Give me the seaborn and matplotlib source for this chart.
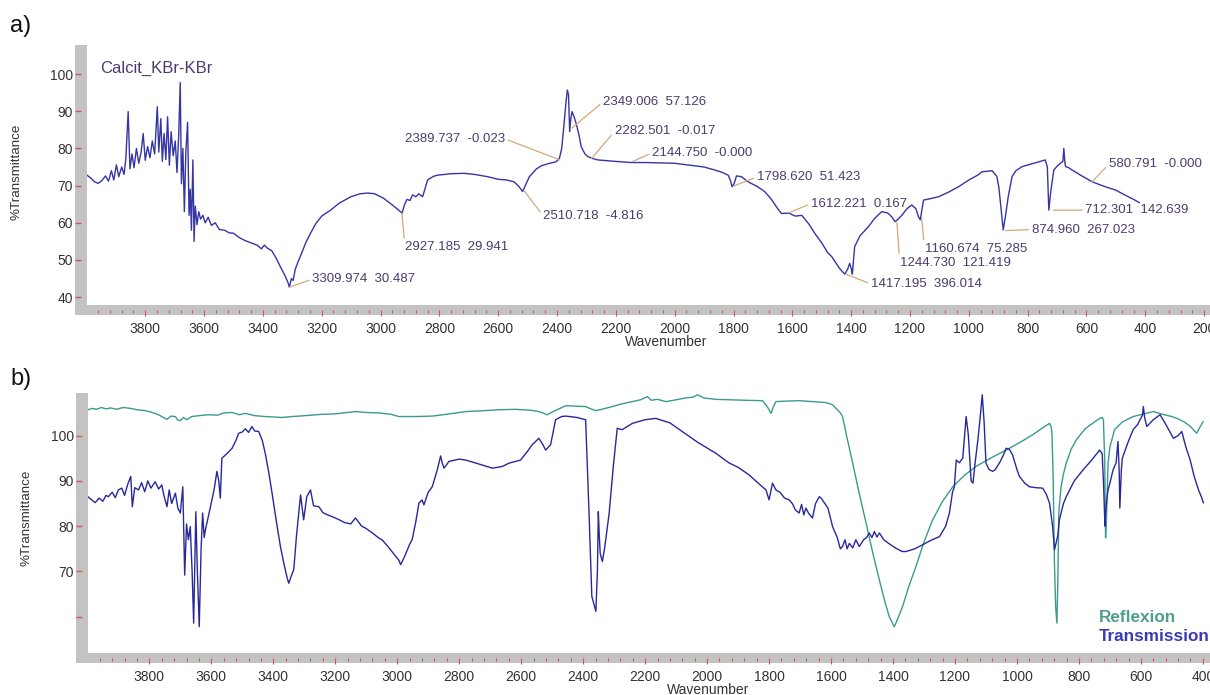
""" IR spectra of calcite: a) KBr pellet with peak picks, b) reflexion vs transmission
"""

import matplotlib
matplotlib.use('Agg')
import pandas as pd
import matplotlib.pyplot as plt
from matplotlib import font_manager
from matplotlib.ticker import FixedLocator
import seaborn as sns

# ---- panel a: Calcit_KBr-KBr (%T)
wn_a = [3998, 3985, 3972, 3960, 3948, 3935, 3925, 3915, 3907, 3898, 3890, 3880,
        3872, 3866, 3858, 3852, 3845, 3838, 3830, 3822, 3814, 3807, 3800, 3792,
        3784, 3776, 3768, 3759, 3754, 3747, 3742, 3736, 3730, 3724, 3718, 3712,
        3705, 3698, 3692, 3686, 3681, 3677, 3672, 3667, 3662, 3656, 3651, 3647,
        3643, 3638, 3634, 3630, 3624, 3618, 3612, 3604, 3596, 3586, 3575, 3562,
        3548, 3530, 3515, 3500, 3480, 3460, 3440, 3420, 3405, 3395, 3385, 3370,
        3355, 3340, 3325, 3315, 3310, 3303, 3297, 3290, 3282, 3270, 3255, 3238,
        3220, 3200, 3170, 3140, 3101, 3070, 3044, 3020, 2990, 2960, 2940, 2927,
        2918, 2910, 2900, 2891, 2880, 2870, 2857, 2840, 2820, 2806, 2760, 2716,
        2680, 2636, 2600, 2570, 2546, 2530, 2517, 2505, 2494, 2470, 2454, 2430,
        2403, 2392, 2384, 2377, 2370, 2365, 2361, 2357, 2353, 2349, 2342, 2335,
        2325, 2318, 2305, 2295, 2280, 2261, 2200, 2148, 2100, 2050, 2000, 1950,
        1900, 1864, 1840, 1818, 1810, 1805, 1798, 1790, 1773, 1750, 1720, 1694,
        1670, 1650, 1637, 1612, 1590, 1568, 1545, 1524, 1500, 1480, 1466, 1440,
        1422, 1412, 1405, 1399, 1396, 1388, 1370, 1341, 1320, 1296, 1275, 1262,
        1251, 1240, 1228, 1210, 1194, 1180, 1171, 1165, 1154, 1130, 1103, 1070,
        1035, 1000, 970, 955, 921, 905, 898, 890, 883, 874, 866, 853,
        840, 819, 780, 740, 733, 728, 722, 711, 700, 689, 680, 677,
        673, 671, 660, 649, 620, 580, 540, 501, 470, 440, 420]
tr_a = [72.8, 72.0, 71.0, 70.6, 71.3, 72.6, 71.2, 74.0, 71.5, 75.6, 72.4, 75.0,
        73.0, 77.2, 89.9, 74.5, 78.5, 74.8, 80.0, 76.0, 79.0, 84.0, 76.8, 80.5,
        77.5, 82.0, 78.5, 91.2, 79.0, 88.0, 76.5, 84.0, 77.0, 88.5, 75.5, 84.5,
        78.0, 82.0, 73.5, 84.0, 97.7, 70.5, 80.0, 63.0, 79.0, 87.0, 62.0, 69.0,
        58.0, 76.9, 55.0, 64.5, 59.5, 63.0, 61.0, 62.0, 60.0, 61.5, 59.3, 60.0,
        58.2, 58.0, 57.3, 57.2, 56.0, 55.2, 54.6, 54.0, 53.0, 54.0, 53.2, 52.5,
        50.5, 48.1, 45.8, 44.0, 42.7, 45.0, 44.5, 47.5, 49.2, 51.5, 54.5, 57.2,
        59.8, 61.8, 63.4, 65.3, 67.0, 67.8, 68.0, 67.8, 66.6, 64.8, 63.5, 62.6,
        65.0, 66.3, 66.0, 67.5, 67.0, 67.8, 67.0, 71.5, 72.5, 72.8, 73.2, 73.3,
        73.0, 72.4, 71.7, 71.5, 71.0, 69.8, 68.4, 70.5, 72.4, 74.5, 75.3, 75.9,
        76.4, 77.3, 80.0, 85.8, 92.0, 95.7, 94.5, 84.5, 88.0, 89.9, 88.5, 86.7,
        83.5, 80.5, 78.5, 77.8, 77.3, 76.9, 76.5, 76.2, 76.2, 76.1, 76.0, 75.5,
        75.0, 74.2, 73.6, 72.8, 71.3, 69.7, 70.5, 72.6, 72.4, 71.0, 69.8, 68.4,
        66.2, 63.8, 62.5, 62.6, 61.8, 62.0, 59.8, 57.2, 54.6, 52.0, 50.9, 47.8,
        46.2, 47.5, 49.1, 47.5, 46.2, 53.6, 56.5, 59.0, 61.2, 63.0, 62.6, 61.6,
        60.3, 61.0, 62.0, 63.8, 64.8, 63.8, 61.6, 60.8, 66.1, 66.5, 67.0, 68.2,
        69.7, 71.5, 72.8, 73.7, 74.0, 72.5, 69.7, 63.5, 58.1, 62.5, 67.0, 72.4,
        74.0, 75.1, 76.0, 76.9, 75.0, 63.4, 68.0, 74.2, 75.2, 76.0, 76.5, 80.0,
        76.0, 75.1, 74.8, 74.2, 72.8, 71.0, 69.8, 68.8, 67.5, 66.3, 65.4]

# peak picks of panel a: wavenumber, printed value, %T where the leader starts
pk_wn = [3309.974, 2927.185, 2510.718, 2389.737, 2349.006, 2282.501, 2144.750,
         1798.620, 1612.221, 1417.195, 1244.730, 1160.674, 874.960, 712.301, 580.791]
pk_val = ['30.487', '29.941', '-4.816', '-0.023', '57.126', '-0.017', '-0.000',
          '51.423', '0.167', '396.014', '121.419', '75.285', '267.023', '142.639', '-0.000']
pk_t = [42.7, 62.6, 68.5, 76.9, 85.5, 77.3, 76.4, 69.9, 62.7, 46.2, 60.3, 61.6,
        57.9, 63.4, 71.0]

# ---- panel b: transmission (blue) and reflexion (teal)
wn_bt = [3998, 3990, 3975, 3962, 3950, 3940, 3932, 3920, 3910, 3900, 3889, 3880,
         3870, 3860, 3855, 3847, 3835, 3825, 3815, 3805, 3795, 3781, 3770, 3760,
         3752, 3743, 3736, 3728, 3716, 3708, 3700, 3692, 3686, 3680, 3674, 3668,
         3662, 3657, 3650, 3645, 3639, 3633, 3628, 3623, 3619, 3610, 3598, 3590,
         3582, 3576, 3571, 3566, 3550, 3533, 3520, 3512, 3500, 3490, 3480, 3469,
         3460, 3447, 3435, 3426, 3415, 3404, 3390, 3377, 3365, 3355, 3350, 3342,
         3334, 3325, 3312, 3302, 3292, 3280, 3270, 3253, 3240, 3225, 3210, 3190,
         3170, 3150, 3135, 3130, 3115, 3103, 3080, 3060, 3049, 3030, 3010, 2995,
         2989, 2975, 2960, 2952, 2940, 2930, 2920, 2914, 2900, 2887, 2871, 2860,
         2855, 2849, 2833, 2800, 2779, 2740, 2693, 2660, 2640, 2602, 2580, 2564,
         2543, 2530, 2521, 2505, 2495, 2489, 2470, 2456, 2420, 2392, 2381, 2372,
         2364, 2359, 2354, 2351, 2348, 2345, 2338, 2330, 2316, 2303, 2290, 2274,
         2241, 2200, 2166, 2120, 2080, 2030, 1972, 1930, 1900, 1864, 1840, 1820,
         1810, 1800, 1789, 1778, 1765, 1750, 1735, 1725, 1715, 1703, 1695, 1688,
         1681, 1672, 1660, 1650, 1638, 1632, 1620, 1610, 1595, 1580, 1570, 1563,
         1555, 1548, 1541, 1530, 1520, 1509, 1495, 1485, 1477, 1468, 1460, 1452,
         1444, 1430, 1410, 1390, 1370, 1358, 1330, 1304, 1280, 1250, 1230, 1218,
         1208, 1202, 1196, 1186, 1175, 1164, 1157, 1148, 1142, 1135, 1126, 1118,
         1112, 1106, 1100, 1090, 1078, 1070, 1057, 1045, 1035, 1025, 1014, 1000,
         992, 975, 960, 940, 917, 905, 895, 885, 879, 874, 868, 863,
         850, 841, 815, 787, 760, 733, 725, 721, 716, 714, 710, 706,
         700, 690, 680, 674, 670, 668, 663, 660, 640, 625, 610, 603,
         595, 592, 588, 581, 560, 538, 520, 495, 480, 468, 455, 441,
         428, 414, 405, 398]
tr_bt = [86.5, 86.0, 85.2, 86.2, 85.5, 86.8, 86.5, 87.5, 86.3, 88.0, 88.4, 86.8,
         89.2, 91.0, 84.3, 88.5, 88.0, 89.6, 87.6, 90.0, 88.4, 89.8, 88.2, 89.1,
         86.5, 84.3, 88.0, 85.0, 87.3, 84.0, 82.9, 88.7, 69.2, 80.5, 77.0, 79.9,
         70.0, 58.6, 83.2, 70.0, 57.8, 75.0, 82.9, 77.5, 79.2, 82.0, 85.8, 88.5,
         92.1, 90.0, 86.2, 95.0, 96.0, 97.2, 99.0, 100.5, 100.8, 101.5, 100.7, 102.0,
         101.0, 100.9, 98.8, 96.1, 92.0, 87.3, 81.0, 75.5, 71.5, 68.5, 67.4, 69.0,
         70.4, 78.0, 86.9, 81.4, 86.5, 88.0, 84.5, 84.3, 83.0, 82.5, 82.1, 81.5,
         80.8, 80.5, 81.8, 81.4, 80.0, 79.6, 78.5, 77.4, 77.0, 75.5, 73.8, 72.5,
         71.5, 73.5, 76.0, 77.0, 81.0, 85.1, 85.8, 84.7, 87.5, 88.7, 92.4, 95.5,
         94.0, 92.8, 94.3, 94.8, 94.6, 93.8, 92.8, 93.2, 93.9, 94.6, 96.5, 98.0,
         99.4, 98.0, 96.8, 98.0, 101.5, 103.5, 104.2, 104.3, 104.0, 103.5, 82.9, 64.5,
         62.5, 61.2, 70.0, 83.2, 78.0, 74.0, 72.2, 75.5, 82.9, 93.0, 101.6, 101.3,
         102.7, 103.5, 103.8, 102.8, 100.9, 98.5, 96.1, 94.0, 93.0, 91.3, 89.8, 88.6,
         88.0, 85.8, 89.5, 88.0, 87.5, 86.2, 85.8, 85.0, 83.6, 82.9, 84.8, 82.5,
         84.0, 82.8, 81.8, 85.0, 86.5, 86.2, 85.0, 84.0, 79.9, 77.5, 75.0, 75.5,
         77.0, 75.0, 76.2, 75.2, 77.0, 75.5, 77.0, 77.5, 78.5, 77.5, 78.8, 77.6,
         78.5, 77.0, 76.0, 75.1, 74.4, 74.4, 75.0, 75.9, 76.8, 77.7, 80.0, 82.9,
         87.5, 88.7, 94.6, 94.0, 95.0, 104.2, 100.2, 90.0, 89.5, 94.0, 99.1, 104.5,
         109.0, 103.0, 93.9, 92.5, 92.1, 92.5, 93.9, 95.5, 97.2, 97.0, 95.7, 92.5,
         91.0, 89.5, 88.7, 88.5, 88.4, 87.0, 85.1, 80.0, 74.8, 76.2, 78.0, 81.4,
         85.0, 86.5, 90.0, 92.4, 94.5, 96.8, 96.0, 90.2, 80.0, 82.9, 86.0, 88.0,
         89.5, 92.4, 94.0, 98.7, 92.0, 84.0, 92.5, 95.0, 98.8, 101.3, 102.5, 103.5,
         104.5, 106.4, 104.0, 102.0, 103.5, 104.6, 102.5, 99.4, 100.0, 100.9, 97.5, 94.6,
         91.0, 88.0, 86.5, 85.1]

wn_br = [3998, 3985, 3970, 3955, 3940, 3925, 3905, 3885, 3860, 3840, 3813, 3795,
         3770, 3755, 3743, 3730, 3716, 3708, 3700, 3690, 3680, 3663, 3640, 3610,
         3580, 3560, 3533, 3510, 3490, 3460, 3426, 3400, 3370, 3340, 3318, 3280,
         3240, 3200, 3160, 3135, 3100, 3060, 3020, 2995, 2960, 2941, 2887, 2830,
         2779, 2720, 2672, 2620, 2570, 2543, 2530, 2516, 2500, 2475, 2456, 2420,
         2392, 2375, 2359, 2340, 2306, 2275, 2241, 2215, 2193, 2180, 2160, 2133,
         2100, 2070, 2045, 2031, 2010, 1972, 1930, 1880, 1821, 1805, 1794, 1785,
         1778, 1750, 1703, 1660, 1617, 1595, 1584, 1570, 1563, 1550, 1530, 1510,
         1487, 1465, 1444, 1425, 1412, 1396, 1385, 1369, 1350, 1326, 1300, 1272,
         1240, 1207, 1170, 1132, 1080, 1035, 990, 949, 915, 895, 890, 887,
         883, 879, 875, 871, 868, 865, 858, 850, 841, 825, 808, 780,
         750, 733, 725, 721, 717, 714, 711, 706, 700, 685, 660, 625,
         590, 560, 530, 500, 484, 460, 440, 420, 410, 399]
tr_br = [105.7, 106.0, 105.8, 106.2, 105.9, 106.1, 105.8, 106.2, 106.0, 105.7, 105.5, 105.2,
         104.6, 104.0, 103.6, 104.3, 104.2, 103.4, 103.3, 104.0, 103.5, 104.2, 104.4, 104.6,
         104.5, 105.0, 105.1, 104.6, 104.9, 104.4, 104.2, 104.1, 104.0, 104.2, 104.3, 104.5,
         104.7, 104.8, 105.1, 105.3, 105.1, 105.0, 104.7, 104.2, 104.2, 104.2, 104.3, 104.8,
         105.3, 105.5, 105.7, 105.8, 105.6, 105.3, 105.0, 104.6, 105.2, 106.0, 106.6, 106.5,
         106.4, 105.9, 105.5, 105.8, 106.4, 107.0, 107.5, 107.9, 108.6, 107.8, 108.0, 107.5,
         107.9, 108.3, 108.5, 109.0, 108.3, 108.0, 107.9, 107.8, 107.7, 106.3, 104.9, 106.5,
         107.5, 107.6, 107.7, 107.5, 107.3, 106.8, 106.0, 105.0, 104.2, 100.0, 93.9, 87.5,
         80.7, 74.0, 68.1, 63.0, 60.0, 57.8, 59.5, 62.3, 66.5, 71.1, 76.5, 81.4,
         85.5, 88.7, 91.2, 93.2, 95.2, 96.8, 98.5, 100.2, 101.8, 102.7, 102.0, 100.5,
         90.0, 71.8, 62.0, 58.6, 68.0, 82.9, 88.5, 91.5, 93.9, 97.0, 99.1, 101.5,
         103.0, 103.8, 104.0, 103.5, 95.0, 77.4, 82.0, 93.9, 97.5, 101.3, 103.0, 104.2,
         104.8, 105.3, 104.7, 104.2, 103.8, 103.0, 102.0, 100.5, 101.8, 103.1]

# ticks
ticks_a = list(range(200, 3801, 200))
ticks_b = list(range(400, 3801, 200))
yticks_a = [40, 50, 60, 70, 80, 90, 100]
yticks_b = [60, 70, 80, 90, 100]
ylabels_b = ['', '70', '80', '90', '100']

# colours
GRAY = '#c3c3c3'
RED = '#d9534f'
BLUE_A = '#3535a5'
BLUE_B = '#28289c'
TEAL = '#3b9a8e'
TXT = '#4a3c6e'
LEAD = '#d6a77c'
LAB = '#333333'

sns.set_theme(style='white')
plt.rcParams['font.family'] = ['Liberation Sans', 'DejaVu Sans']

installed = {f.name for f in font_manager.fontManager.ttflist}
if 'Liberation Sans Narrow' in installed:
    NARROW, tsize, asize = 'Liberation Sans Narrow', 11.2, 11.2
else:
    NARROW, tsize, asize = 'Liberation Sans', 10.0, 9.5

W, H = 1210, 695
fig = plt.figure(figsize=(W / 100, H / 100), dpi=100)


def frac(x0, y0, x1, y1):
    # pixel box (top-left origin) -> figure fraction
    return [x0 / W, 1 - y1 / H, (x1 - x0) / W, (y1 - y0) / H]


def style_axes(ax, xlim, ylim, xmajor, yticks, ylabels):
    ax.set_xlim(*xlim)
    ax.set_ylim(*ylim)
    bb = ax.get_window_extent()
    dx = (xlim[0] - xlim[1]) / bb.width
    dy = (ylim[1] - ylim[0]) / bb.height
    ax.spines['top'].set_visible(False)
    ax.spines['right'].set_visible(False)
    sl, sb = ax.spines['left'], ax.spines['bottom']
    sl.set_position(('outward', 6 * 0.72))
    sl.set_linewidth(12 * 0.72)
    sb.set_position(('outward', 5 * 0.72))
    sb.set_linewidth(10 * 0.72)
    for s in (sl, sb):
        s.set_color(GRAY)
        s.set_capstyle('butt')
        s.set_zorder(0.8)
    sl.set_bounds(ylim[0] - 10 * dy, ylim[1])
    sb.set_bounds(xlim[1], xlim[0] + 12 * dx)
    ax.set_axisbelow(False)

    xminor = [v for v in range(40, 4000, 40) if v % 200 and xlim[1] < v < xlim[0]]
    ax.xaxis.set_major_locator(FixedLocator(xmajor))
    ax.xaxis.set_minor_locator(FixedLocator(xminor))
    ax.set_yticks(yticks, ylabels)
    ax.tick_params(axis='x', which='major', bottom=True, direction='out',
                   length=6 * 0.72, width=0.8, color=RED, pad=4.5,
                   labelsize=tsize, labelcolor=LAB)
    ax.tick_params(axis='x', which='minor', bottom=True, direction='out',
                   length=3 * 0.72, width=0.8, color=RED)
    ax.tick_params(axis='y', which='major', left=True, direction='out',
                   length=6 * 0.72, width=1.0, color=RED, pad=1.5,
                   labelsize=tsize, labelcolor=LAB)
    for t in ax.get_xticklabels() + ax.get_yticklabels():
        t.set_fontfamily(NARROW)
    ax.grid(False)


# ---------------- panel a
ax_a = fig.add_axes(frac(87, 45, 1210, 305))
df_a = pd.DataFrame({'wavenumber': wn_a, 'T': tr_a})
sns.lineplot(data=df_a, x='wavenumber', y='T', ax=ax_a, color=BLUE_A, lw=1.0,
             estimator=None, sort=False)
style_axes(ax_a, (3998, 180), (37.9, 107.8), ticks_a, yticks_a,
           [str(v) for v in yticks_a])

ax_a.text(0.0116, 0.908, 'Calcit_KBr-KBr', transform=ax_a.transAxes,
          fontsize=12, color=TXT, ha='left', va='center')

# text offsets (pixels) from the leader start, and text alignment
offs = [(23, 8), (3, -34), (19, -25), (-55, 21), (31, 26), (23, 27), (20, 9),
        (23, 9), (22, 9), (25, -10), (3, -41), (3, -32), (26, 1), (32, 0), (17, 18)]
has = ['left'] * 3 + ['right'] + ['left'] * 11
for wn, val, t, (ox, oy), ha in zip(pk_wn, pk_val, pk_t, offs, has):
    ax_a.annotate('{0:.3f}  {1}'.format(wn, val), xy=(wn, t), xytext=(ox, oy),
                  textcoords='offset pixels', ha=ha, va='center',
                  fontsize=asize, family=NARROW, color=TXT,
                  arrowprops=dict(arrowstyle='-', color=LEAD, lw=0.9,
                                  shrinkA=0, shrinkB=0,
                                  relpos=(1 if ha == 'right' else 0, 0.5)))

ax_a.set_xlabel('Wavenumber', fontsize=10, color=LAB)
ax_a.set_ylabel('%Transmittance', fontsize=9.6, color=LAB)
ax_a.xaxis.set_label_coords((666 - 87) / 1123, (305 - 335) / 260)
ax_a.yaxis.set_label_coords((23 - 87) / 1123, (305 - 172) / 260)

# ---------------- panel b
ax_b = fig.add_axes(frac(88, 393, 1210, 653))
df_b = pd.concat([
    pd.DataFrame({'wavenumber': wn_br, 'T': tr_br, 'mode': 'Reflexion'}),
    pd.DataFrame({'wavenumber': wn_bt, 'T': tr_bt, 'mode': 'Transmission'}),
])
sns.lineplot(data=df_b, x='wavenumber', y='T', hue='mode', ax=ax_b,
             palette={'Reflexion': TEAL, 'Transmission': BLUE_B}, lw=1.0,
             estimator=None, sort=False, legend=False)
style_axes(ax_b, (3998, 377), (52.0, 109.4), ticks_b, yticks_b, ylabels_b)

ax_b.text(0.901, 0.138, 'Reflexion', transform=ax_b.transAxes, fontsize=12.3,
          fontweight='bold', color='#4f9e8f', ha='left', va='center')
ax_b.text(0.901, 0.062, 'Transmission', transform=ax_b.transAxes, fontsize=12.3,
          fontweight='bold', color='#3b3bb5', ha='left', va='center')

ax_b.set_xlabel('Wavenumber', fontsize=10, color=LAB)
ax_b.set_ylabel('%Transmittance', fontsize=9.6, color=LAB)
ax_b.xaxis.set_label_coords((708 - 88) / 1122, (653 - 683) / 260)
ax_b.yaxis.set_label_coords((33 - 88) / 1122, (653 - 518) / 260)

# panel letters
fig.text(10 / W, 1 - 26 / H, 'a)', fontsize=17, color='#111111', va='center')
fig.text(10 / W, 1 - 379 / H, 'b)', fontsize=17, color='#111111', va='center')

fig.savefig('out.png', dpi=100)
